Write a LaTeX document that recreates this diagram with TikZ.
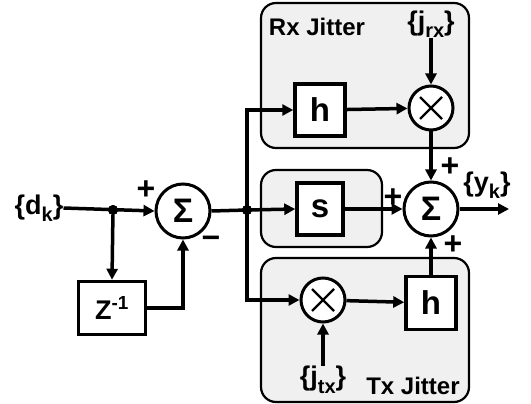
\documentclass[tikz,border=0pt]{standalone}
\usepackage{fontspec}
\setmainfont{Liberation Sans}
\usetikzlibrary{arrows.meta}
\newcommand{\mysub}[1]{\raisebox{-0.28em}{\fontsize{20}{20}\selectfont #1}}
\tikzset{
  panel/.style={draw=black, line width=2.2pt, fill=black!6, rounded corners=15pt},
  blk/.style={draw=black, line width=3.5pt, fill=white, inner sep=0pt},
  sumnode/.style={draw=black, line width=3pt, circle, fill=white, minimum size=54pt, inner sep=0pt, font=\bfseries\fontsize{34}{36}\selectfont},
  mulnode/.style={draw=black, line width=3pt, circle, fill=white, minimum size=44pt, inner sep=0pt},
  wire/.style={line width=3.5pt},
  arr/.style={line width=3.5pt, -{Triangle[length=11pt,width=11pt]}},
  dotnode/.style={circle, fill=black, inner sep=0pt, minimum size=10pt},
  lbl/.style={inner sep=0pt, font=\bfseries\fontsize{27}{29}\selectfont},
  jlbl/.style={inner sep=0pt, font=\bfseries\fontsize{24}{26}\selectfont},
  big/.style={font=\bfseries\fontsize{33}{35}\selectfont},
  sgn/.style={inner sep=0pt, font=\bfseries\fontsize{32}{33}\selectfont}
}
\begin{document}
\begin{tikzpicture}[x=1pt,y=-1pt, font=\bfseries\fontsize{24}{26}\selectfont]
\useasboundingbox (0,0) rectangle (531,404);
% panels
\draw[panel] (261,3) rectangle (469,148);
\draw[panel] (261,170) rectangle (382,247);
\draw[panel] (261,258) rectangle (469,402);
\node[jlbl] (rxlab) at (317,27) {Rx Jitter};
\node[jlbl] (txlab) at (413,386) {Tx Jitter};
% nodes
\node[lbl] (dk) at (39,208) {\{d\mysub{k}\}};
\node[dotnode] (j1) at (113,210) {};
\node[sumnode] (sl) at (183,211) {Σ};
\node[blk, minimum width=67pt, minimum height=53pt, font=\bfseries\fontsize{27}{29}\selectfont] (z) at (112,308) {Z\textsuperscript{-1}};
\node[dotnode] (j2) at (247,210) {};
\node[blk, big, minimum width=50pt, minimum height=52pt] (hrx) at (320,110) {h};
\node[mulnode] (mrx) at (431,108) {};
\node[lbl] (jrx) at (431,24) {\{j\mysub{rx}\}};
\node[blk, big, minimum width=46pt, minimum height=52pt] (s) at (320,209) {s};
\node[sumnode] (sr) at (431,209) {Σ};
\node[mulnode] (mtx) at (323,300) {};
\node[blk, big, minimum width=50pt, minimum height=53pt] (htx) at (431,303) {h};
\node[lbl] (jtx) at (323,380) {\{j\mysub{tx}\}};
\node[lbl] (yk) at (487,185) {\{y\mysub{k}\}};
\coordinate (out) at (509,209);
% crosses
\foreach \m in {mrx,mtx}{
  \draw[line width=2.2pt] ([shift={(-11,-11)}]\m.center) -- ([shift={(11,11)}]\m.center);
  \draw[line width=2.2pt] ([shift={(-11,11)}]\m.center) -- ([shift={(11,-11)}]\m.center);
}
% signs
\node[sgn] (p1) at (146,190) {+};
\node[sgn] (m1) at (211,242) {−};
\node[sgn] (p2) at (450,167) {+};
\node[sgn] (p3) at (393,198) {+};
\node[sgn] (p4) at (453,245) {+};
% connectors
\draw[arr] (dk.east) -- (sl.west);
\draw[arr] (j1) -- (z.north);
\draw[arr] (z.east) -| (sl.south);
\draw[wire] (sl.east) -- (j2.center);
\draw[arr] (j2.center) -- (s.west);
\draw[arr] (j2.center) |- (hrx.west);
\draw[arr] (j2.center) |- (mtx.west);
\draw[arr] (hrx) -- (mrx);
\draw[arr] (jrx) -- (mrx);
\draw[arr] (mrx) -- (sr);
\draw[arr] (s) -- (sr);
\draw[arr] (mtx) -- (htx);
\draw[arr] (jtx) -- (mtx);
\draw[arr] (htx) -- (sr);
\draw[arr] (sr) -- (out);
\node[dotnode] at (j1) {};
\node[dotnode] at (j2) {};
\end{tikzpicture}
\end{document}
